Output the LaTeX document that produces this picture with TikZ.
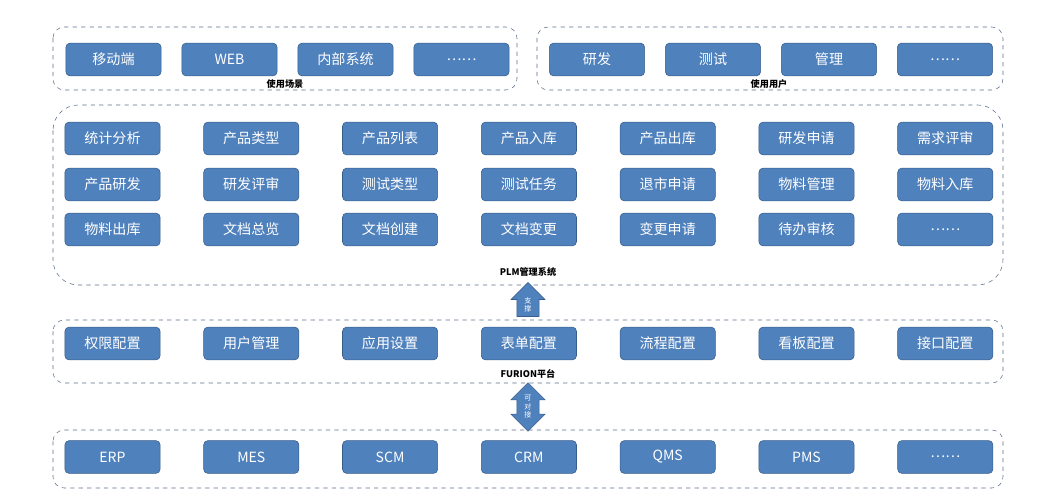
\documentclass[tikz,border=0pt]{standalone}
\usepackage{fontspec}
\setmainfont{Noto Sans CJK SC}
\usetikzlibrary{positioning,shapes.arrows}
\definecolor{boxblue}{HTML}{4F81BD}
\definecolor{boxline}{HTML}{385D8A}
\definecolor{frameline}{HTML}{5A6F8C}

\begin{document}
\begin{tikzpicture}[x=0.025cm,y=-0.025cm,
        every node/.style={font=\fontsize{10}{12}\selectfont},
        item/.style={draw=boxline, fill=boxblue, text=white, rounded corners=3pt, minimum width=2.38cm, minimum height=0.82cm, inner sep=0pt},
        frame/.style={draw=frameline, dashed, rounded corners=#1, thin},
        frame/.default=8pt,
        caption/.style={font=\fontsize{6.5}{8}\selectfont\bfseries, inner sep=0pt},
        bigarrow/.style={draw=boxline, fill=boxblue, text=white, minimum width=0.85cm, inner sep=1pt, font=\fontsize{5}{6}\selectfont}
    ]
    \useasboundingbox (0,0) rectangle (1055,500);

    % Frames
    \draw[frame] (53,27) rectangle (517,90);
    \draw[frame] (537,27) rectangle (1003,90);
    \draw[frame=18pt] (53,105) rectangle (1003,285);
    \draw[frame] (53,320) rectangle (1003,383);
    \draw[frame] (53,430) rectangle (1003,488);

    % Usage scenes / users
    \foreach \t [count=\i] in {移动端,WEB,内部系统,……}
        \node[item] (scene\i) at ({113.5+116*(\i-1)},59.5) {\t};
    \foreach \t [count=\i] in {研发,测试,管理,……}
        \node[item] (user\i) at ({597+116*(\i-1)},59.5) {\t};
    \node[caption] (scenes) at (285,84) {使用场景};
    \node[caption] (users) at (769,84) {使用用户};

    % PLM modules
    \foreach \t [count=\i] in {统计分析,产品类型,产品列表,产品入库,产品出库,研发申请,需求评审}
        \node[item] (plma\i) at ({112.5+138.8*(\i-1)},138.5) {\t};
    \foreach \t [count=\i] in {产品研发,研发评审,测试类型,测试任务,退市申请,物料管理,物料入库}
        \node[item] (plmb\i) at ({112.5+138.8*(\i-1)},184.5) {\t};
    \foreach \t [count=\i] in {物料出库,文档总览,文档创建,文档变更,变更申请,待办审核,……}
        \node[item] (plmc\i) at ({112.5+138.8*(\i-1)},229.5) {\t};
    \node[caption] (plm) at (528,272) {PLM管理系统};

    % FURION platform
    \foreach \t [count=\i] in {权限配置,用户管理,应用设置,表单配置,流程配置,看板配置,接口配置}
        \node[item] (cfg\i) at ({112.5+138.8*(\i-1)},343.5) {\t};
    \node[caption] (furion) at (528,374) {FURION平台};

    % External systems
    \foreach \t [count=\i] in {ERP,MES,SCM,CRM,QMS,PMS,……}
        \node[item] (ext\i) at ({112.5+138.8*(\i-1)},457) {\t};

    % Arrows
    \node[bigarrow, single arrow, shape border rotate=90, single arrow head extend=2pt, minimum height=0.85cm, align=center] (support) at (528,305) {支\\撑};
    \node[bigarrow, double arrow, shape border rotate=90, double arrow head extend=2pt, minimum height=1.05cm, align=center] (link) at (528,407) {可\\对\\接};

\end{tikzpicture}
\end{document}
